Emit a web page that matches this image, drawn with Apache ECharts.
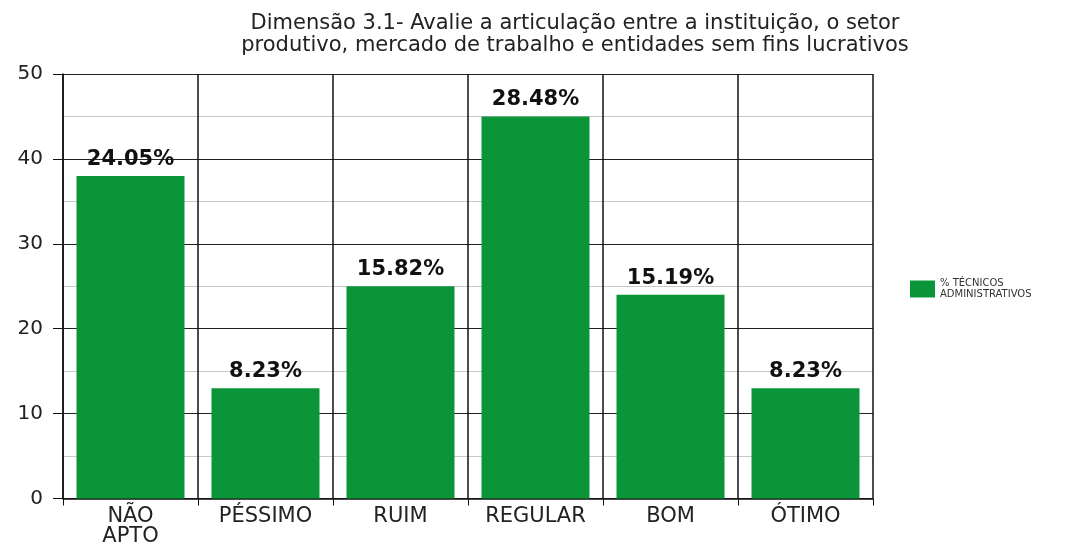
<!DOCTYPE html>
<html><head><meta charset="utf-8">
<script src="https://cdn.jsdelivr.net/npm/echarts@6/dist/echarts.min.js"></script>
<style>html,body{margin:0;padding:0;background:#fff}#c{width:1087px;height:547px}</style>
</head><body><div id="c"></div>
<script>
const titleText = "Dimensão 3.1- Avalie a articulação entre a instituição, o setor\nprodutivo, mercado de trabalho e entidades sem fins lucrativos";
const categories = ["NÃO\nAPTO", "PÉSSIMO", "RUIM", "REGULAR", "BOM", "ÓTIMO"];
const values = [38, 13, 25, 45, 24, 13];
const percentLabels = ["24.05%", "8.23%", "15.82%", "28.48%", "15.19%", "8.23%"];
const seriesName = "% TÉCNICOS\nADMINISTRATIVOS";
const yTicks = [0, 10, 20, 30, 40, 50];

const chart = echarts.init(document.getElementById('c'), null, {renderer: 'canvas'});
chart.setOption({
  animation: false,
  backgroundColor: '#fff',
  title: {
    text: titleText, left: 570, top: 8, textAlign: 'center',
    textStyle: {fontFamily: 'DejaVu Sans', fontSize: 21, fontWeight: 'normal', color: '#222', lineHeight: 22}
  },
  legend: {
    data: [{name: seriesName, icon: 'rect'}], left: 905, top: 273, orient: 'vertical',
    itemWidth: 25, itemHeight: 17, itemGap: 4,
    textStyle: {fontFamily: 'DejaVu Sans', fontSize: 10, color: '#333', lineHeight: 11}
  },
  grid: {left: 63, right: 214, top: 74, bottom: 43, containLabel: false},
  xAxis: {
    type: 'category', data: categories,
    axisLine: {lineStyle: {color: '#111', width: 1.5}},
    axisTick: {show: true, length: 7, lineStyle: {color: '#111'}},
    splitLine: {show: true, lineStyle: {color: '#111', width: 1.5}},
    axisLabel: {fontFamily: 'DejaVu Sans', fontSize: 21, color: '#222', margin: 8, lineHeight: 20}
  },
  yAxis: {
    type: 'value', min: yTicks[0], max: yTicks[yTicks.length-1], interval: 10,
    axisLine: {show: true, lineStyle: {color: '#111', width: 1.5}},
    axisTick: {show: true, length: 10, lineStyle: {color: '#111'}},
    splitLine: {show: true, lineStyle: {color: '#222', width: 1.2}},
    minorTick: {show: false, splitNumber: 2},
    minorSplitLine: {show: true, lineStyle: {color: '#c8c8c8', width: 1}},
    axisLabel: {fontFamily: 'DejaVu Sans', fontSize: 20, color: '#222', margin: 20}
  },
  series: [{
    name: seriesName, type: 'bar', data: values, barCategoryGap: '20%',
    itemStyle: {color: '#0a9538'},
    label: {
      show: true, position: 'top', distance: 6,
      formatter: p => percentLabels[p.dataIndex],
      fontFamily: 'DejaVu Sans', fontWeight: 'bold', fontSize: 21, color: '#111'
    }
  }]
});
</script></body></html>
